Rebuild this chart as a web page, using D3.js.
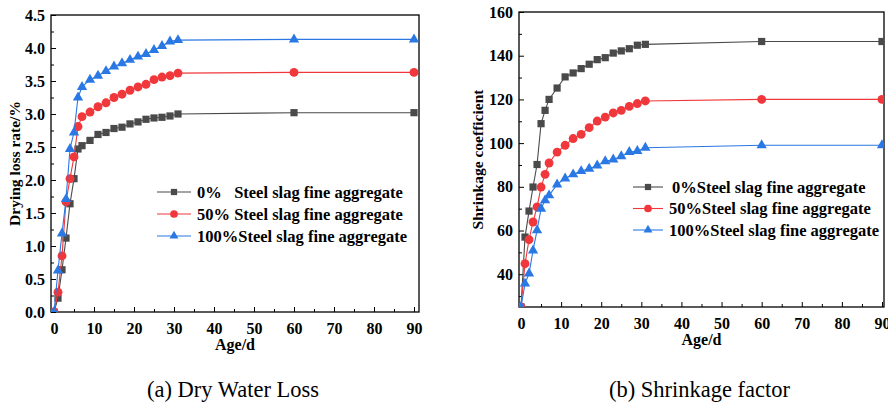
<!DOCTYPE html>
<html>
<head>
<meta charset="utf-8">
<script src="https://cdn.jsdelivr.net/npm/d3@7"></script>
<style>
  body { margin: 0; background: #fff; }
  svg text { font-family: "Liberation Serif", "Times New Roman", serif; }
</style>
</head>
<body>
<div id="chart"></div>
<script>
// age in days, shared by both panels
var ages = [0, 1, 2, 3, 4, 5, 6, 7, 9, 11, 13, 15, 17, 19, 21, 23, 25, 27, 29, 31, 60, 90];

var seriesNames = ["0%   Steel slag fine aggregate", "50% Steel slag fine aggregate", "100%Steel slag fine aggregate"];
var seriesNamesB = ["0%Steel slag fine aggregate", "50%Steel slag fine aggregate", "100%Steel slag fine aggregate"];

// (a) drying loss rate, %
var lossRate0 =   [0, 0.21, 0.64, 1.12, 1.64, 2.02, 2.47, 2.52, 2.60, 2.69, 2.72, 2.78, 2.80, 2.85, 2.88, 2.92, 2.94, 2.95, 2.97, 3.00, 3.02, 3.02];
var lossRate50 =  [0, 0.30, 0.85, 1.67, 2.02, 2.35, 2.81, 2.96, 3.03, 3.11, 3.17, 3.25, 3.30, 3.36, 3.41, 3.45, 3.52, 3.56, 3.58, 3.62, 3.63, 3.63];
var lossRate100 = [0, 0.63, 1.19, 1.71, 2.47, 2.72, 3.25, 3.41, 3.52, 3.58, 3.65, 3.72, 3.77, 3.82, 3.87, 3.91, 3.97, 4.03, 4.10, 4.12, 4.13, 4.13];

// (b) shrinkage coefficient
var shrink0 =   [25, 57.0, 68.9, 79.9, 90.2, 108.9, 115.0, 120.0, 125.2, 130.3, 132.1, 134.1, 136.1, 138.2, 139.1, 141.2, 142.2, 143.2, 144.8, 145.2, 146.5, 146.5];
var shrink50 =  [25, 44.8, 55.8, 63.9, 70.8, 79.9, 85.7, 90.9, 95.9, 99.0, 102.1, 104.0, 107.1, 110.1, 111.9, 113.8, 115.0, 116.8, 118.1, 119.3, 120.0, 120.0];
var shrink100 = [25, 35.7, 40.3, 50.9, 60.1, 70.0, 73.8, 76.1, 81.1, 83.8, 85.7, 87.2, 88.3, 89.8, 91.7, 92.5, 94.0, 95.9, 96.4, 97.9, 99.0, 99.0];

var colors = ["#4a4a4a", "#f0383c", "#2a78e4"];
var symbols = [d3.symbolSquare, d3.symbolCircle, d3.symbolTriangle];
var symbolSizes = [52, 62, 46];

var svg = d3.select("#chart").append("svg")
    .attr("width", 888)
    .attr("height", 405);

function panel(config) {
  'use strict';
  var left = config.box[0], top = config.box[1], right = config.box[2], bottom = config.box[3];

  var x = d3.scaleLinear().domain(config.xDomain).range([left, right]);
  var y = d3.scaleLinear().domain(config.yDomain).range([bottom, top]);

  var g = svg.append("g");

  g.append("clipPath").attr("id", config.id + "-clip")
    .append("rect")
      .attr("x", left).attr("y", top)
      .attr("width", right - left).attr("height", bottom - top);

  // minor ticks
  g.append("g")
      .attr("transform", "translate(0," + bottom + ")")
      .call(d3.axisBottom(x).tickValues(d3.range(5, 90, 10)).tickSize(-3).tickFormat(""))
      .call(function(s) { s.select(".domain").remove(); });
  g.append("g")
      .attr("transform", "translate(" + left + ",0)")
      .call(d3.axisLeft(y).tickValues(config.yMinor).tickSize(-3).tickFormat(""))
      .call(function(s) { s.select(".domain").remove(); });

  // major ticks with labels
  var xAxis = g.append("g")
      .attr("transform", "translate(0," + bottom + ")")
      .call(d3.axisBottom(x).tickValues(d3.range(0, 91, 10)).tickSizeInner(-5).tickSizeOuter(0).tickPadding(11));
  var yAxis = g.append("g")
      .attr("transform", "translate(" + left + ",0)")
      .call(d3.axisLeft(y).tickValues(config.yTicks).tickFormat(config.yFormat).tickSizeInner(-5).tickSizeOuter(0).tickPadding(6));

  [xAxis, yAxis].forEach(function(a) {
    a.select(".domain").remove();
    a.selectAll("text")
      .attr("fill", "#000")
      .attr("font-size", "16px")
      .attr("font-weight", "bold");
  });
  g.selectAll(".tick line").attr("stroke", "#000").attr("stroke-width", 1);

  // frame
  g.append("rect")
    .attr("x", left).attr("y", top)
    .attr("width", right - left).attr("height", bottom - top)
    .attr("fill", "none").attr("stroke", "#000").attr("stroke-width", 1.3);

  // series
  var plot = g.append("g").attr("clip-path", "url(#" + config.id + "-clip)");
  var line = d3.line().x(function(d) { return x(d[0]); }).y(function(d) { return y(d[1]); });

  config.series.forEach(function(values, i) {
    var pts = ages.map(function(a, k) { return [a, values[k]]; });
    plot.append("path")
      .datum(pts)
      .attr("d", line)
      .attr("fill", "none")
      .attr("stroke", colors[i])
      .attr("stroke-width", 1.1);
    plot.selectAll(".m" + i).data(pts).enter()
      .append("path")
      .attr("transform", function(d) { return "translate(" + x(d[0]) + "," + y(d[1]) + ")"; })
      .attr("d", d3.symbol().type(symbols[i]).size(symbolSizes[i]))
      .attr("fill", colors[i]);
  });

  // legend
  var lg = g.append("g").attr("transform", "translate(" + config.legend[0] + "," + config.legend[1] + ")");
  config.names.forEach(function(name, i) {
    var row = lg.append("g").attr("transform", "translate(0," + (i * config.legendStep) + ")");
    row.append("line")
      .attr("x1", 0).attr("x2", config.legendLine)
      .attr("stroke", colors[i]).attr("stroke-width", 1.1);
    row.append("path")
      .attr("transform", "translate(" + (config.legendLine / 2) + ",0)")
      .attr("d", d3.symbol().type(symbols[i]).size(symbolSizes[i] * 0.75))
      .attr("fill", colors[i]);
    row.append("text")
      .attr("x", config.legendLine + config.legendGap[i])
      .attr("y", 5.5)
      .attr("font-size", "16.5px")
      .attr("font-weight", "bold")
      .attr("xml:space", "preserve")
      .style("white-space", "pre")
      .text(name);
  });

  // axis titles
  var cx = (left + right) / 2;
  g.append("text")
    .attr("x", cx).attr("y", bottom + 38)
    .attr("text-anchor", "middle")
    .attr("font-size", "16px").attr("font-weight", "bold")
    .text("Age/d");
  g.append("text")
    .attr("transform", "translate(" + config.yLabelX + "," + ((top + bottom) / 2) + ") rotate(-90)")
    .attr("text-anchor", "middle")
    .attr("dy", "0.35em")
    .attr("font-size", "15.5px").attr("font-weight", "bold")
    .text(config.yLabel);
  g.append("text")
    .attr("x", cx - 2).attr("y", 397)
    .attr("text-anchor", "middle")
    .attr("font-size", "22.5px")
    .text(config.caption);
}

panel({
  id: "a",
  box: [51, 15, 419, 312],
  xDomain: [-0.75, 91.25],
  yDomain: [0, 4.5],
  yTicks: d3.range(0, 4.51, 0.5),
  yMinor: d3.range(0.25, 4.5, 0.5),
  yFormat: d3.format(".1f"),
  yLabel: "Drying loss rate/%",
  yLabelX: 15,
  series: [lossRate0, lossRate50, lossRate100],
  names: seriesNames,
  legend: [157, 192],
  legendLine: 34,
  legendGap: [6, 6, 6],
  legendStep: 22,
  caption: "(a) Dry Water Loss"
});

panel({
  id: "b",
  box: [519, 12, 884, 307],
  xDomain: [-0.5, 90.5],
  yDomain: [25, 160],
  yTicks: d3.range(40, 161, 20),
  yMinor: d3.range(30, 160, 10).filter(function(v) { return v % 20 !== 0; }),
  yFormat: d3.format("d"),
  yLabel: "Shrinkage coefficient",
  yLabelX: 478,
  series: [shrink0, shrink50, shrink100],
  names: seriesNamesB,
  legend: [633, 187],
  legendLine: 30,
  legendGap: [9, 6, 6],
  legendStep: 21.5,
  caption: "(b) Shrinkage factor"
});
</script>
</body>
</html>
